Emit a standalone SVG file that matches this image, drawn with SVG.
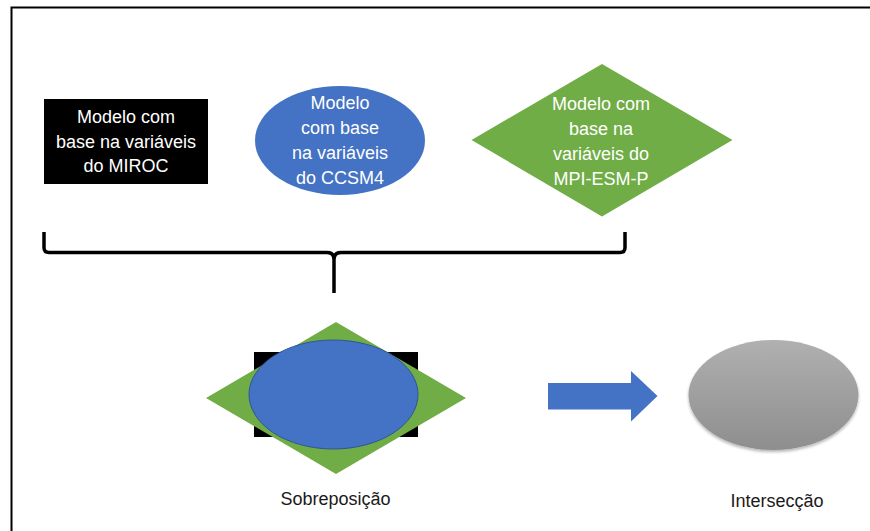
<svg xmlns="http://www.w3.org/2000/svg" width="870" height="531" viewBox="0 0 870 531">
  <defs>
    <linearGradient id="grey" x1="0" y1="0" x2="0" y2="1">
      <stop offset="0" stop-color="#B0B0B0"/>
      <stop offset="1" stop-color="#8E8E8E"/>
    </linearGradient>
    <filter id="soft" x="-10%" y="-10%" width="120%" height="125%">
      <feGaussianBlur in="SourceAlpha" stdDeviation="1.5"/>
      <feOffset dy="1.5" result="sh"/>
      <feComponentTransfer in="sh" result="sh2"><feFuncA type="linear" slope="0.3"/></feComponentTransfer>
      <feGaussianBlur in="SourceGraphic" stdDeviation="0.5" result="src"/>
      <feMerge><feMergeNode in="sh2"/><feMergeNode in="src"/></feMerge>
    </filter>
  </defs>
  <style>
    .lbl { font-family: "Liberation Sans", Arial, sans-serif; font-size: 18px; fill: #FFFFFF; text-anchor: middle; }
    .cap { font-family: "Liberation Sans", Arial, sans-serif; font-size: 18px; fill: #1A1A1A; text-anchor: middle; }
    .blk { fill: #000000; }
    .blue { fill: #4472C4; }
    .green { fill: #70AD47; }
    .frame, .brace { fill: none; stroke: #000000; }
  </style>
  <rect width="870" height="531" fill="#FFFFFF"/>
  <path class="frame" d="M11.5,531 V7.5 H870" stroke-width="2"/>

  <g id="miroc">
    <rect class="blk" x="44" y="99" width="164" height="85"/>
    <text class="lbl" x="126" y="123">Modelo com</text>
    <text class="lbl" x="126" y="147.5">base na variáveis</text>
    <text class="lbl" x="126" y="172">do MIROC</text>
  </g>

  <g id="ccsm4">
    <ellipse class="blue" cx="340" cy="140.5" rx="85" ry="54.5"/>
    <text class="lbl" x="340" y="108.5">Modelo</text>
    <text class="lbl" x="340" y="133.5">com base</text>
    <text class="lbl" x="340" y="158.5">na variáveis</text>
    <text class="lbl" x="340" y="183.5">do CCSM4</text>
  </g>

  <g id="mpi">
    <polygon class="green" points="602,64 732.5,140 602,216.5 471.5,140"/>
    <text class="lbl" x="601" y="110">Modelo com</text>
    <text class="lbl" x="601" y="135">base na</text>
    <text class="lbl" x="601" y="160">variáveis do</text>
    <text class="lbl" x="601" y="185">MPI-ESM-P</text>
  </g>

  <g id="connectors">
    <path class="brace" stroke-width="3.5" stroke-linejoin="round" d="M44,232 V247.5 Q44,252.5 49,252.5 H327 Q334,252.5 334,259.5 V293 M334,259.5 Q334,252.5 341,252.5 H620 Q625,252.5 625,247.5 V232"/>
    <polygon id="arrow" class="blue" points="548,383 631,383 631,371 657.5,396 631,421.5 631,409.5 548,409.5"/>
  </g>

  <g id="sobreposicao">
    <rect class="blk" x="254" y="352" width="164" height="85"/>
    <polygon class="green" points="336,322 466,398 336,474 206,398"/>
    <ellipse class="blue" cx="333.5" cy="394.5" rx="84.5" ry="54.5" stroke="#2F5597" stroke-width="1"/>
    <text class="cap" x="335.5" y="505">Sobreposição</text>
  </g>

  <g id="interseccao">
    <ellipse cx="773.5" cy="395" rx="85" ry="55" fill="url(#grey)" filter="url(#soft)"/>
    <text class="cap" x="777" y="506.5">Intersecção</text>
  </g>
</svg>
